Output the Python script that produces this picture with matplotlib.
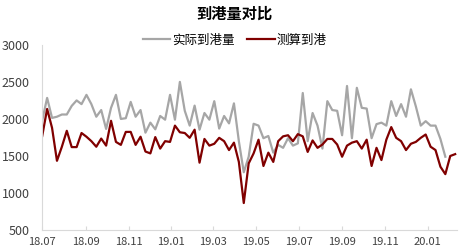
import numpy as np
import pandas as pd
import matplotlib
matplotlib.use('Agg')
import matplotlib.pyplot as plt
import matplotlib.dates as mdates

plt.rcParams['font.family'] = ['Noto Sans CJK SC', 'DejaVu Sans']

# Wochenwerte ab Anfang Juli 2018
start_date = '2018-07-01'

actual = [1980, 2284, 2014, 2030, 2060, 2060, 2176, 2250, 2200, 2325,
          2200, 2030, 2120, 1865, 2150, 2325, 2000, 2010, 2230, 2030,
          2120, 1815, 1950, 1860, 2040, 1990, 2325, 1990, 2500, 2110,
          1910, 2180, 1855, 2080, 1990, 2240, 1870, 2040, 1940, 2210,
          1700, 1280, 1490, 1935, 1910, 1740, 1770, 1545, 1650, 1610,
          1740, 1640, 1670, 2350, 1700, 2080, 1910, 1600, 2240, 2120,
          2110, 1780, 2445, 1740, 2420, 2150, 2140, 1740, 1930, 1950,
          1910, 2240, 2040, 2200, 2030, 2400, 2170, 1910, 1970, 1910,
          1910, 1730, 1490]

estimated = [1770, 2135, 1880, 1435, 1625, 1840, 1620, 1620, 1810, 1760,
             1700, 1625, 1735, 1640, 1975, 1690, 1650, 1825, 1825, 1650,
             1760, 1560, 1535, 1755, 1600, 1700, 1690, 1910, 1820, 1810,
             1745, 1855, 1410, 1730, 1640, 1665, 1745, 1700, 1580, 1680,
             1420, 865, 1400, 1535, 1720, 1365, 1545, 1420, 1700, 1765,
             1780, 1700, 1795, 1765, 1555, 1710, 1610, 1655, 1730, 1730,
             1655, 1490, 1640, 1680, 1700, 1600, 1720, 1365, 1610, 1445,
             1720, 1890, 1745, 1700, 1580, 1665, 1690, 1745, 1790, 1625,
             1580, 1355, 1255, 1500, 1525]

dates = pd.date_range(start_date, periods=len(estimated), freq='7D')

fig = plt.figure(figsize=(4.69, 2.52), dpi=100)
ax = fig.add_axes([0.09, 0.087, 0.885, 0.735])

ax.plot(dates[:len(actual)], actual, color='#A6A6A6', linewidth=1.6, label='实际到港量')
ax.plot(dates, estimated, color='#800000', linewidth=1.6, label='测算到港')

ax.set_ylim(500, 3000)
ax.set_yticks([500, 1000, 1500, 2000, 2500, 3000])
ax.set_xlim(dates[0], dates[-1] + pd.Timedelta(days=3))
ax.xaxis.set_major_locator(mdates.MonthLocator(bymonth=[1, 3, 5, 7, 9, 11]))
ax.xaxis.set_major_formatter(mdates.DateFormatter('%y.%m'))

for side in ['top', 'right']:
    ax.spines[side].set_visible(False)
for side in ['left', 'bottom']:
    ax.spines[side].set_color('#D9D9D9')
    ax.spines[side].set_linewidth(0.8)

ax.tick_params(axis='y', length=0, labelsize=9, colors='#404040', pad=9)
ax.tick_params(axis='x', direction='in', length=3, color='#D9D9D9',
               labelsize=8, labelcolor='#404040', pad=5)

fig.text(0.5, 0.945, '到港量对比', ha='center', va='center',
         fontsize=11, fontweight='bold', color='#000000')
fig.legend(loc='center', bbox_to_anchor=(0.5, 0.84), ncol=2, frameon=False,
           fontsize=9, handlelength=2.2, handletextpad=0.15, columnspacing=1.0)

plt.savefig('out.png', dpi=100)
plt.close()
